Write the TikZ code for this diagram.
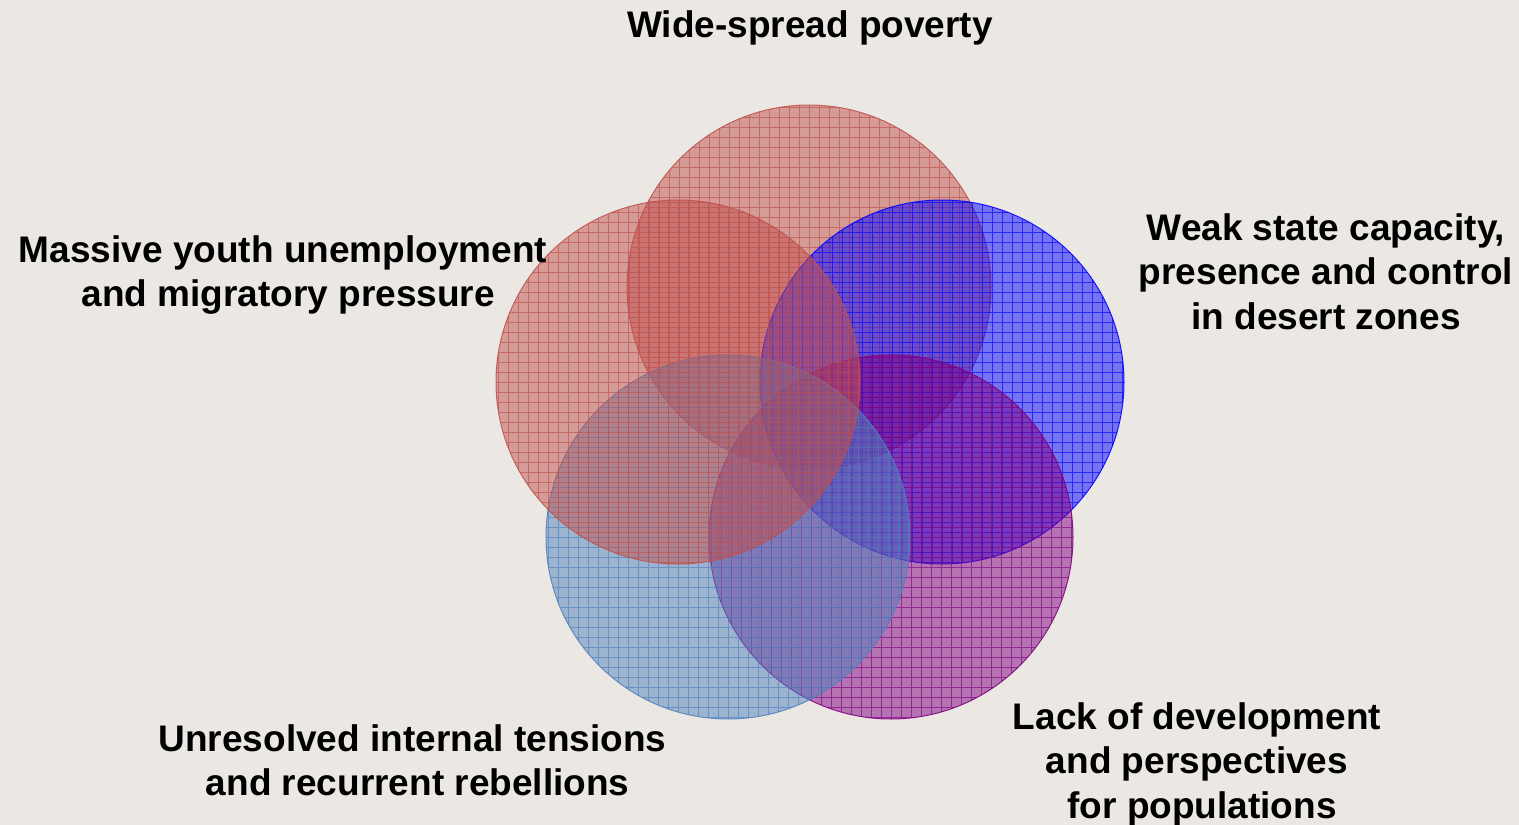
\documentclass[tikz,border=0pt]{standalone}
\usepackage{fontspec}
\setmainfont{Liberation Sans}
\definecolor{bgc}{RGB}{235,232,227}
\definecolor{cred}{RGB}{192,80,77}
\definecolor{cblue}{RGB}{0,0,255}
\definecolor{clblue}{RGB}{79,129,189}
\definecolor{cpurple}{RGB}{128,0,128}
\begin{document}
\begin{tikzpicture}[x=1pt,y=-1pt,
  venn/.style={circle, minimum size=364pt, inner sep=0pt, outer sep=0pt,
    fill=#1, fill opacity=0.5, draw=#1, draw opacity=0.85, line width=1pt,
    path picture={\draw[#1, opacity=0.65, line width=0.8pt]
      (path picture bounding box.south west) grid[step=10pt]
      (path picture bounding box.north east);}},
  lbl/.style={font=\bfseries\fontsize{37}{44.5}\selectfont, align=center,
    inner sep=0pt, anchor=north, text=black}]
\fill[bgc] (0,0) rectangle (1519,825);
\useasboundingbox (0,0) rectangle (1519,825);
\node[venn=cred]    (poverty) at (809,287) {};
\node[venn=cblue]   (weak)    at (942,382) {};
\node[venn=cpurple] (lack)    at (891,537) {};
\node[venn=clblue]  (unres)   at (728,537) {};
\node[venn=cred]    (youth)   at (678,382) {};
\node[lbl] (povertyl) at (810,10) {Wide-spread poverty};
\node[lbl] (youthl) at (283,235) {Massive youth unemployment\\\hspace*{0.278em}and migratory pressure};
\node[lbl] (weakl) at (1326,213) {Weak state capacity,\\presence and control\\in desert zones};
\node[lbl] (lackl) at (1197,702) {Lack of development\\and perspectives\\\hspace*{0.278em}for populations};
\node[lbl] (unresl) at (412.5,724) {Unresolved internal tensions\\\hspace*{0.278em}and recurrent rebellions};
\end{tikzpicture}
\end{document}
